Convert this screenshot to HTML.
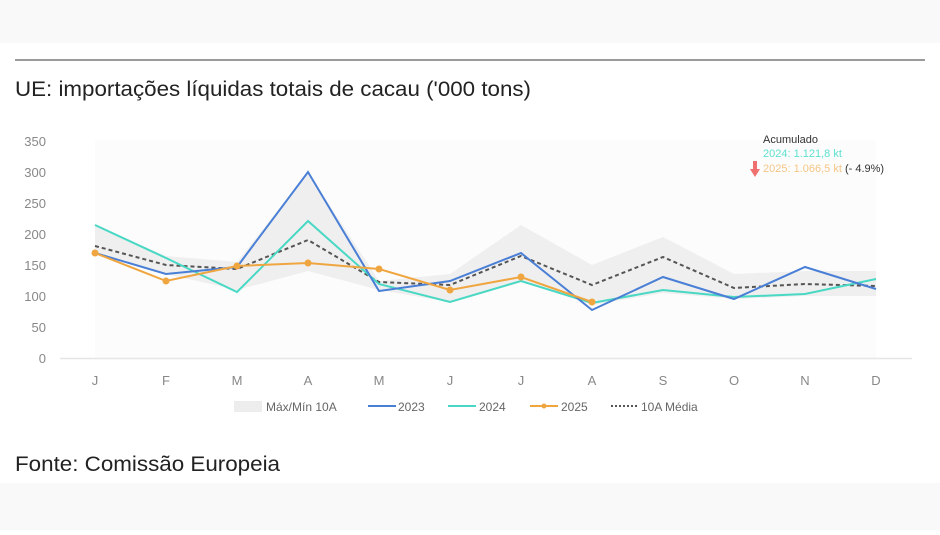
<!DOCTYPE html>
<html><head><meta charset="utf-8"><style>
body{margin:0;width:940px;height:530px;background:#fff;overflow:hidden;font-family:"Liberation Sans",sans-serif}
</style></head><body>
<svg width="940" height="530" xmlns="http://www.w3.org/2000/svg" font-family="Liberation Sans, sans-serif">
<rect x="0" y="0" width="940" height="43" fill="#f9f9f9"/>
<rect x="0" y="483" width="940" height="47" fill="#f9f9f9"/>
<rect x="15" y="59" width="910" height="2" fill="#9a9a9a"/>
<text x="15" y="96" font-size="21" fill="#222" textLength="516" lengthAdjust="spacingAndGlyphs">UE: importações líquidas totais de cacau ('000 tons)</text>
<text x="15" y="471" font-size="21" fill="#222" textLength="265" lengthAdjust="spacingAndGlyphs">Fonte: Comissão Europeia</text>
<rect x="95" y="140" width="781" height="218" fill="#fcfcfc"/>
<g font-size="13" fill="#888" text-anchor="end">
<text x="46" y="146">350</text><text x="46" y="177">300</text><text x="46" y="208">250</text><text x="46" y="239">200</text><text x="46" y="270">150</text><text x="46" y="301">100</text><text x="46" y="332">50</text><text x="46" y="363">0</text>
</g>
<line x1="60" y1="358.5" x2="912" y2="358.5" stroke="#e6e6e6" stroke-width="1.5"/>
<g font-size="13" fill="#888" text-anchor="middle">
<text x="95" y="385">J</text><text x="166" y="385">F</text><text x="237" y="385">M</text><text x="308" y="385">A</text><text x="379" y="385">M</text><text x="450" y="385">J</text><text x="521" y="385">J</text><text x="592" y="385">A</text><text x="663" y="385">S</text><text x="734" y="385">O</text><text x="805" y="385">N</text><text x="876" y="385">D</text>
</g>
<polygon fill="#efefef" points="95,225 166,256 237,262 308,172 379,281 450,274 521,225 592,265 663,237 734,274 805,271 876,271 876,296 805,296 734,299 663,293 592,305 521,281 450,302 379,290 308,271 237,290 166,274 95,253"/>
<polyline fill="none" stroke="#555" stroke-width="2" stroke-dasharray="4,3" points="95,246 166,265 237,269 308,240 379,282 450,285 521,256 592,285 663,257 734,288 805,284 876,286"/>
<polyline fill="none" stroke="#48d8c4" stroke-width="2" points="95,225 166,258 237,292 308,221 379,284 450,302 521,281 592,303 663,290 734,297 805,294 876,279"/>
<polyline fill="none" stroke="#4a7fd6" stroke-width="2" points="95,253 166,274 237,267 308,172 379,291 450,281 521,253 592,310 663,277 734,299 805,267 876,289"/>
<polyline fill="none" stroke="#f0a640" stroke-width="2" points="95,253 166,281 237,266 308,263 379,269 450,290 521,277 592,302"/>
<g fill="#f0a640"><circle cx="95" cy="253" r="3.5"/><circle cx="166" cy="281" r="3.5"/><circle cx="237" cy="266" r="3.5"/><circle cx="308" cy="263" r="3.5"/><circle cx="379" cy="269" r="3.5"/><circle cx="450" cy="290" r="3.5"/><circle cx="521" cy="277" r="3.5"/><circle cx="592" cy="302" r="3.5"/></g>
<text x="763" y="143" font-size="11" fill="#333">Acumulado</text>
<text x="763" y="157" font-size="11" fill="#5ee0d0">2024: 1.121,8 kt</text>
<text x="763" y="172" font-size="11" fill="#f5c585">2025: 1.066,5 kt <tspan fill="#333">(- 4.9%)</tspan></text>
<rect x="753" y="161" width="4" height="9" fill="#f07070"/><polygon points="750,169 760,169 755,177" fill="#f07070"/>
<g font-size="12" fill="#666">
<rect x="234" y="401" width="28" height="11" fill="#ededed"/><text x="266" y="411">Máx/Mín 10A</text>
<line x1="368" y1="406" x2="396" y2="406" stroke="#4a7fd6" stroke-width="2"/><text x="398" y="411">2023</text>
<line x1="448" y1="406" x2="476" y2="406" stroke="#48d8c4" stroke-width="2"/><text x="479" y="411">2024</text>
<line x1="530" y1="406" x2="558" y2="406" stroke="#f0a640" stroke-width="2"/><circle cx="544" cy="406" r="2.5" fill="#f0a640"/><text x="561" y="411">2025</text>
<line x1="611" y1="406" x2="639" y2="406" stroke="#555" stroke-width="2" stroke-dasharray="2,2"/><text x="641" y="411">10A Média</text>
</g>
</svg>
</body></html>
